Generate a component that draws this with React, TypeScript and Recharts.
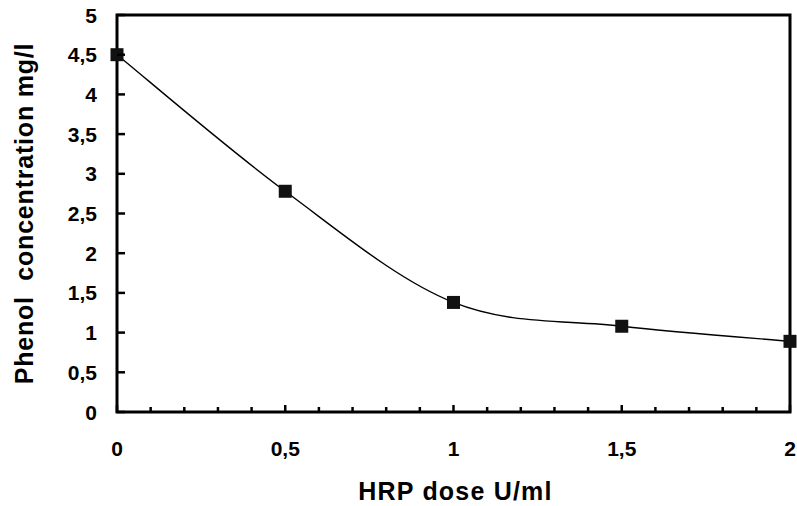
import React from 'react';
import { LineChart, Line, XAxis, YAxis, ReferenceArea, Label } from 'recharts';

// HRP dose (U/ml) vs remaining phenol (mg/l)
const doses = [0, 0.5, 1, 1.5, 2];
const phenol = [4.5, 2.78, 1.38, 1.08, 0.89];

const xTicks = [0, 0.1, 0.2, 0.3, 0.4, 0.5, 0.6, 0.7, 0.8, 0.9, 1, 1.1, 1.2, 1.3, 1.4, 1.5, 1.6, 1.7, 1.8, 1.9, 2];
const yTicks = [0, 0.5, 1, 1.5, 2, 2.5, 3, 3.5, 4, 4.5, 5];

const xTitle = 'HRP dose U/ml';
const yTitle = 'Phenol  concentration mg/l';

const data = doses.map((d, i) => ({ dose: d, phenol: phenol[i] }));

const FONT = '"Liberation Sans", Arial, Helvetica, sans-serif';
const fmt = (v: number) => String(v).replace('.', ',');

// Excel-style smoothed line (Catmull-Rom as cubic bezier)
const excelCurve = (ctx: any) => {
  let pts: number[][] = [];
  return {
    areaStart() {},
    areaEnd() {},
    lineStart() {
      pts = [];
    },
    lineEnd() {
      if (!pts.length) return;
      ctx.moveTo(pts[0][0], pts[0][1]);
      for (let i = 0; i < pts.length - 1; i++) {
        const p0 = pts[Math.max(i - 1, 0)];
        const p1 = pts[i];
        const p2 = pts[i + 1];
        const p3 = pts[Math.min(i + 2, pts.length - 1)];
        ctx.bezierCurveTo(
          p1[0] + (p2[0] - p0[0]) / 6,
          p1[1] + (p2[1] - p0[1]) / 6,
          p2[0] - (p3[0] - p1[0]) / 6,
          p2[1] - (p3[1] - p1[1]) / 6,
          p2[0],
          p2[1]
        );
      }
    },
    point(x: number, y: number) {
      pts.push([+x, +y]);
    },
  };
};

const XTick = (props: any) => {
  const { x, y, payload } = props;
  const v = payload.value;
  const major = Math.abs(v * 2 - Math.round(v * 2)) < 1e-6;
  return (
    <g>
      <line x1={x} x2={x} y1={y} y2={y - (major ? 7 : 5)} stroke="#000" strokeWidth={2.5} />
      {major && (
        <text x={x} y={y + 44} textAnchor="middle" fontFamily={FONT} fontWeight="bold" fontSize={21} fill="#000">
          {fmt(v)}
        </text>
      )}
    </g>
  );
};

const YTick = (props: any) => {
  const { x, y, payload } = props;
  return (
    <g>
      <line x1={x} x2={x + 8} y1={y} y2={y} stroke="#000" strokeWidth={2.5} />
      <text x={x - 20} y={y + 7.5} textAnchor="end" fontFamily={FONT} fontWeight="bold" fontSize={21} fill="#000">
        {fmt(payload.value)}
      </text>
    </g>
  );
};

const Square = (props: any) => {
  const { cx, cy } = props;
  if (cx == null || cy == null) return null;
  return <rect x={cx - 6.5} y={cy - 6.5} width={13} height={13} fill="#111" />;
};

export default function App() {
  return (
    <div style={{ width: 797, height: 506, background: '#fff' }}>
      <style>{'body{margin:0}'}</style>
      <LineChart width={797} height={506} data={data} margin={{ top: 15, right: 7, left: 0, bottom: 0 }}>
        <XAxis
          dataKey="dose"
          type="number"
          domain={[0, 2]}
          ticks={xTicks}
          interval={0}
          height={94}
          axisLine={false}
          tickLine={false}
          tickSize={0}
          tickMargin={0}
          tick={<XTick />}
        >
          <Label
            content={(p: any) => {
              const vb = p.viewBox;
              return (
                <text
                  x={vb.x + vb.width / 2 + 2}
                  y={vb.y + 88}
                  textAnchor="middle"
                  fontFamily={FONT}
                  fontWeight="bold"
                  fontSize={25}
                  letterSpacing={1.2}
                  fill="#000"
                >
                  {xTitle}
                </text>
              );
            }}
          />
        </XAxis>
        <YAxis
          type="number"
          domain={[0, 5]}
          ticks={yTicks}
          interval={0}
          width={117}
          axisLine={false}
          tickLine={false}
          tickSize={0}
          tickMargin={0}
          tick={<YTick />}
        >
          <Label
            content={(p: any) => {
              const vb = p.viewBox;
              const cx = 33;
              const cy = vb.y + vb.height / 2;
              return (
                <text
                  x={cx}
                  y={cy}
                  transform={`rotate(-90 ${cx} ${cy})`}
                  textAnchor="middle"
                  fontFamily={FONT}
                  fontWeight="bold"
                  fontSize={25}
                  letterSpacing={0.8}
                  fill="#000"
                  style={{ whiteSpace: 'pre' }}
                >
                  {yTitle}
                </text>
              );
            }}
          />
        </YAxis>
        <ReferenceArea x1={0} x2={2} y1={0} y2={5} fill="none" stroke="#000" strokeWidth={3} />
        <Line
          dataKey="phenol"
          type={excelCurve as any}
          stroke="#000"
          strokeWidth={1.4}
          dot={<Square />}
          activeDot={false}
          isAnimationActive={false}
        />
      </LineChart>
    </div>
  );
}
